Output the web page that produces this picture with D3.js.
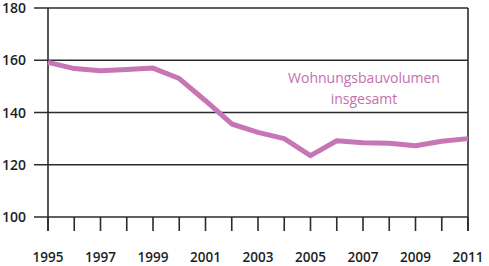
<!DOCTYPE html>
<html>
<head>
<meta charset="utf-8">
<script src="https://cdn.jsdelivr.net/npm/d3@7"></script>
<style>
  body { margin: 0; background: #fff; }
  svg { display: block; }
</style>
</head>
<body>
<script>
// data
var years = [1995, 1996, 1997, 1998, 1999, 2000, 2001, 2002, 2003, 2004, 2005, 2006, 2007, 2008, 2009, 2010, 2011];
var volume = [159.2, 156.8, 156.0, 156.5, 157.0, 153.0, 144.5, 135.6, 132.4, 130.0, 123.5, 129.2, 128.4, 128.2, 127.3, 129.0, 130.0];
var yTicks = [100, 120, 140, 160, 180];
var xTickLabels = [1995, 1997, 1999, 2001, 2003, 2005, 2007, 2009, 2011];
var seriesLabel = ["Wohnungsbauvolumen", "insgesamt"];

const width = 489, height = 266;
var margin = {top: 8, right: 21, bottom: 49, left: 48};

var svg = d3.select("body").append("svg")
    .attr("width", width)
    .attr("height", height);

var x = d3.scaleLinear().domain([1995, 2011]).range([margin.left, width - margin.right]);
var y = d3.scaleLinear().domain([100, 180]).range([height - margin.bottom, margin.top]);

var axisColor = "#2b2b2b";

// horizontal grid lines with a short tick to the left
svg.append("g")
  .selectAll("line")
  .data(yTicks)
  .enter().append("line")
    .attr("x1", margin.left - 14)
    .attr("x2", x(2011))
    .attr("y1", function(d) { return y(d); })
    .attr("y2", function(d) { return y(d); })
    .style("stroke", axisColor)
    .style("stroke-width", 1.6);

// y labels
svg.append("g")
  .selectAll("text")
  .data(yTicks)
  .enter().append("text")
    .attr("x", 26)
    .attr("y", function(d) { return y(d); })
    .attr("dy", "0.36em")
    .attr("text-anchor", "end")
    .style("font-family", "Open Sans")
    .style("font-weight", 600)
    .style("font-size", "14px")
    .style("fill", "#1e1e1e")
    .text(function(d) { return d; });

// left and right vertical lines
[1995, 2011].forEach(function(yr) {
  svg.append("line")
    .attr("x1", x(yr)).attr("x2", x(yr))
    .attr("y1", y(180)).attr("y2", y(100) + 14)
    .style("stroke", axisColor)
    .style("stroke-width", 1.6);
});

// yearly ticks under the axis
svg.append("g")
  .selectAll("line")
  .data(years)
  .enter().append("line")
    .attr("x1", function(d) { return x(d); })
    .attr("x2", function(d) { return x(d); })
    .attr("y1", y(100))
    .attr("y2", y(100) + 14)
    .style("stroke", axisColor)
    .style("stroke-width", 1.6);

// x labels
svg.append("g")
  .selectAll("text")
  .data(xTickLabels)
  .enter().append("text")
    .attr("x", function(d) { return x(d); })
    .attr("y", 262)
    .attr("text-anchor", "middle")
    .style("font-family", "Open Sans")
    .style("font-weight", 600)
    .style("font-size", "13.5px")
    .style("fill", "#1e1e1e")
    .text(function(d) { return d; });

var line = d3.line()
    .x(function(d, i) { return x(years[i]); })
    .y(function(d) { return y(d); });

svg.append("path")
    .datum(volume)
    .attr("d", line)
    .style("fill", "none")
    .style("stroke", "#c775b5")
    .style("stroke-width", 5)
    .style("stroke-linejoin", "round");

// series label
svg.append("g")
  .selectAll("text")
  .data(seriesLabel)
  .enter().append("text")
    .attr("x", 364)
    .attr("y", function(d, i) { return 83 + i * 21; })
    .attr("text-anchor", "middle")
    .style("font-family", "Open Sans")
    .style("font-weight", 500)
    .style("font-size", "14px")
    .style("fill", "#c46fae")
    .text(function(d) { return d; });
</script>
</body>
</html>
